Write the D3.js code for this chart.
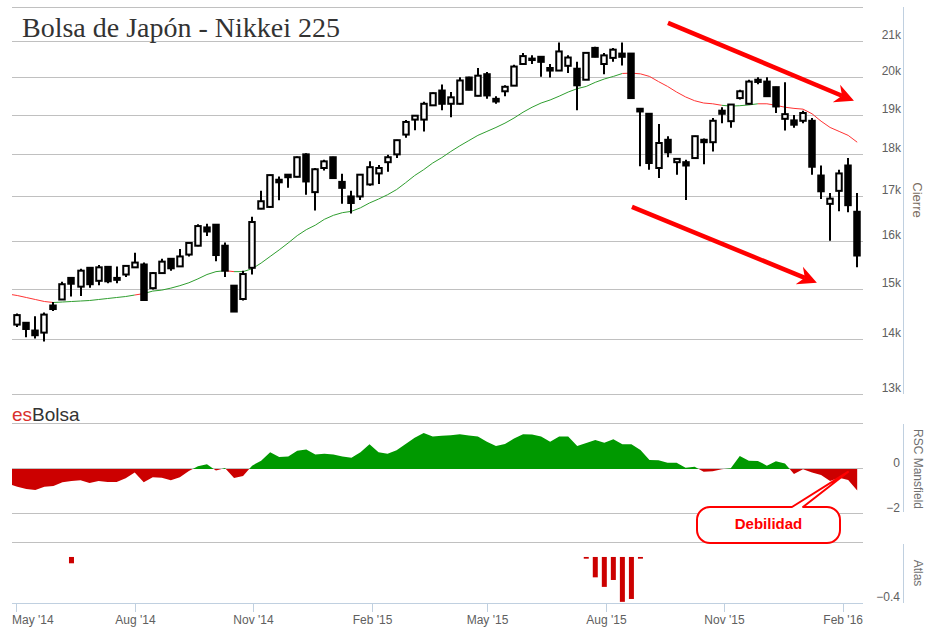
<!DOCTYPE html>
<html>
<head>
<meta charset="utf-8">
<script src="https://cdn.jsdelivr.net/npm/d3@7"></script>
<style>
  body { margin: 0; background: #fff; }
  svg { display: block; }
</style>
</head>
<body>
<div id="chart"></div>
<script>
// weekly candles (Friday of each week)
const weeks = [
  '2014-05-02','2014-05-09','2014-05-16','2014-05-23','2014-05-30',
  '2014-06-06','2014-06-13','2014-06-20','2014-06-27',
  '2014-07-04','2014-07-11','2014-07-18','2014-07-25',
  '2014-08-01','2014-08-08','2014-08-15','2014-08-22','2014-08-29',
  '2014-09-05','2014-09-12','2014-09-19','2014-09-26',
  '2014-10-03','2014-10-10','2014-10-17','2014-10-24','2014-10-31',
  '2014-11-07','2014-11-14','2014-11-21','2014-11-28',
  '2014-12-05','2014-12-12','2014-12-19','2014-12-26',
  '2015-01-02','2015-01-09','2015-01-16','2015-01-23','2015-01-30',
  '2015-02-06','2015-02-13','2015-02-20','2015-02-27',
  '2015-03-06','2015-03-13','2015-03-20','2015-03-27',
  '2015-04-03','2015-04-10','2015-04-17','2015-04-24',
  '2015-05-01','2015-05-08','2015-05-15','2015-05-22','2015-05-29',
  '2015-06-05','2015-06-12','2015-06-19','2015-06-26',
  '2015-07-03','2015-07-10','2015-07-17','2015-07-24','2015-07-31',
  '2015-08-07','2015-08-14','2015-08-21','2015-08-28',
  '2015-09-04','2015-09-11','2015-09-18','2015-09-25',
  '2015-10-02','2015-10-09','2015-10-16','2015-10-23','2015-10-30',
  '2015-11-06','2015-11-13','2015-11-20','2015-11-27',
  '2015-12-04','2015-12-11','2015-12-18','2015-12-25',
  '2016-01-01','2016-01-08','2016-01-15','2016-01-22','2016-01-29',
  '2016-02-05','2016-02-12'
];

const open = [
  14285,14320,14170,14130,14660,14780,15220,15040,15430,15160,
  15450,15220,15290,15440,15500,15010,15320,15620,15460,15710,
  15900,16300,16360,15900,15060,14790,15430,16720,16760,17390,
  17510,17460,18000,17100,17670,17930,17340,17000,17000,17280,
  17540,17810,18000,18490,18870,18870,19240,19630,19280,19280,
  19980,19490,20070,19410,19610,19760,20350,20500,20550,20240,
  20170,20300,20220,19920,20800,20350,20520,20640,20640,19150,
  19020,17670,18360,17810,17810,17910,18360,18300,19100,18830,
  19430,19280,19920,19870,19720,18890,18850,18840,18840,17490,
  16830,17130,17730,16650
];
const high = [
  14500,14330,14450,14520,14730,15140,15230,15410,15440,15490,
  15460,15460,15480,15750,15540,15340,15620,15630,15830,15980,
  16370,16380,16370,15970,15060,15370,16540,17130,17510,17470,
  17520,17950,18030,17670,17870,17940,17530,17130,17520,17830,
  17740,17990,18360,18860,18990,19330,19580,19790,19590,19990,
  20000,20240,20130,19480,19770,20330,20660,20590,20560,20350,
  20950,20590,20410,20670,20830,20660,20800,20950,20650,19160,
  19030,18760,18450,17900,17870,18460,18390,18910,19190,19270,
  19650,19920,19990,19990,19730,19850,18990,19100,18910,17730,
  17080,17630,17910,17080
];
const low = [
  14240,14040,14020,13960,14550,14770,14840,14850,15020,15070,
  15110,15110,15240,15430,14760,14980,15310,15370,15450,15670,
  15890,16110,15570,15240,14530,14760,15290,16710,16740,16910,
  17200,17450,17040,16680,17610,17420,16830,16610,16920,17250,
  17290,17580,17910,18410,18600,18570,19230,19110,18930,19260,
  19640,19480,19410,19280,19480,19750,20330,20350,20000,19980,
  20160,20100,19110,19910,20540,20070,20410,20310,19420,17710,
  17630,17430,17930,17510,16920,17890,17760,18070,18780,18660,
  19390,19260,19800,19460,19040,18590,18660,18780,17510,16940,
  16010,16660,16640,15440
];
const close = [
  14470,14200,14080,14480,14590,15090,15100,15370,15090,15440,
  15150,15180,15470,15540,14770,15320,15560,15420,15670,15960,
  16330,16210,15700,15370,14540,15300,16420,16890,17500,17330,
  17450,17930,17350,17640,17830,17430,17200,16850,17510,17690,
  17670,17930,18350,18810,18970,19280,19560,19280,19450,19900,
  19650,20030,19500,19340,19730,20280,20570,20460,20410,20170,
  20700,20530,19770,20660,20550,20590,20750,20550,19430,19080,
  17790,18280,18050,17890,17730,18450,18300,18840,19020,19260,
  19610,19870,19860,19480,19210,19010,18740,19040,17700,17120,
  16950,17540,16800,15690
];

// the moving average and the Mansfield line start one week before the first candle
const leadWeek = '2014-04-25';
const ma = [
  14890,14860,14820,14780,14740,14720,14730,14740,14750,14760,
  14780,14800,14820,14840,14870,14900,14950,14970,15010,15060,
  15120,15200,15290,15350,15370,15350,15350,15410,15530,15670,
  15810,15960,16120,16250,16350,16480,16570,16630,16660,16740,
  16850,16940,17040,17160,17320,17490,17630,17790,17920,18070,
  18210,18340,18470,18570,18670,18780,18910,19060,19190,19300,
  19380,19480,19590,19680,19740,19850,19940,20010,20090,20100,
  20080,20010,19870,19740,19590,19460,19360,19300,19280,19240,
  19220,19230,19250,19280,19280,19240,19190,19160,19140,19020,
  18830,18670,18570,18470,18300
];
// periods where the average is drawn green (the rest is red)
const greenZones = [
  ['2014-05-30','2014-08-01'],
  ['2014-08-08','2014-10-10'],
  ['2014-10-17','2015-08-14'],
  ['2015-10-30','2015-11-27']
];

const rsc = [
  -0.66,-0.79,-0.89,-0.93,-0.79,-0.76,-0.59,-0.53,-0.50,-0.62,
  -0.53,-0.58,-0.58,-0.41,-0.15,-0.59,-0.37,-0.39,-0.50,-0.37,
  -0.09, 0.12, 0.21,-0.07, 0.04,-0.40,-0.31, 0.15, 0.37, 0.74,
   0.53, 0.56, 0.81, 0.87, 0.65, 0.68, 0.64, 0.56, 0.50, 0.74,
   1.10, 0.74, 0.68, 0.83, 1.11, 1.39, 1.60, 1.44, 1.48, 1.50,
   1.54, 1.49, 1.45, 1.21, 1.02, 1.11, 1.36, 1.54, 1.53, 1.45,
   1.21, 1.45, 1.45, 1.02, 1.16, 1.29, 1.17, 1.32, 1.10, 1.10,
   0.84, 0.40, 0.39, 0.28, 0.28, 0.06, 0.10,-0.12,-0.10,-0.01,
   0.03, 0.58, 0.37, 0.36, 0.15, 0.34, 0.25,-0.22,-0.01,-0.15,
  -0.27,-0.53,-0.39,-0.49,-0.96
];

const atlasWeeks = ['2014-06-13','2015-07-17','2015-07-24','2015-07-31','2015-08-07','2015-08-14','2015-08-21','2015-08-28'];
const atlasValues = [-0.055,-0.015,-0.177,-0.26,-0.20,-0.39,-0.365,-0.015];

const tickDates  = ['2014-05-01','2014-08-01','2014-11-01','2015-02-01','2015-05-01','2015-08-01','2015-11-01','2016-02-01'];
const tickLabels = ["May '14","Aug '14","Nov '14","Feb '15","May '15","Aug '15","Nov '15","Feb '16"];

const priceTicks = [13000,14000,15000,16000,17000,18000,19000,20000,21000,22000];
const rscTicks = [-2, 0, 2];

// trend arrows, in (date, price) units
const arrows = [
  { from: ['2015-09-18T08:00', 21520], to: ['2016-02-09T12:00', 19360] },
  { from: ['2015-08-21T10:00', 16760], to: ['2016-01-11T18:00', 15120] }
];

function createChart() {
  const W = 931, H = 635;
  const left = 12, right = 863, axisX = 903.5;
  const parse = s => new Date(s.length > 10 ? s + 'Z' : s + 'T00:00Z');
  const FONT = '"Liberation Sans", Arial, sans-serif';
  const GRID = '#c0c0c0', AXIS = '#c0d0e0', LABEL = '#606060';

  const svg = d3.select('#chart').append('svg')
    .attr('width', W).attr('height', H)
    .attr('viewBox', `0 0 ${W} ${H}`);

  // 1) scales
  const x = d3.scaleUtc()
    .domain([parse(tickDates[0]), parse(tickDates[tickDates.length - 1])])
    .range([16, 843]);
  const yP = d3.scaleLog().domain([13000, 22000]).range([394, 6.6]);
  const yR = d3.scaleLinear().domain([-2, 2]).range([514, 424]);
  const yA = d3.scaleLinear().domain([-0.4, 0.13]).range([603, 542]);

  const crisp = v => Math.round(v) + 0.5;

  const defs = svg.append('defs');
  const clip = (id, x0, y0, x1, y1) => defs.append('clipPath').attr('id', id)
    .append('rect').attr('x', x0).attr('y', y0).attr('width', x1 - x0).attr('height', y1 - y0);
  clip('clip-main', left, 0, right, 394);
  clip('clip-pos', left, 400, right, yR(0));
  clip('clip-neg', left, yR(0), right, 540);

  // 2) grid lines
  const grid = svg.append('g').attr('stroke', GRID).attr('stroke-width', 1);
  priceTicks.forEach(v => grid.append('line')
    .attr('x1', left).attr('x2', right).attr('y1', crisp(yP(v))).attr('y2', crisp(yP(v))));
  rscTicks.forEach(v => grid.append('line')
    .attr('x1', left).attr('x2', right).attr('y1', crisp(yR(v)) - 1).attr('y2', crisp(yR(v)) - 1));
  grid.append('line')
    .attr('x1', left).attr('x2', right).attr('y1', crisp(yA.range()[1])).attr('y2', crisp(yA.range()[1]));

  // 3) title and watermark
  svg.append('text')
    .attr('x', 22).attr('y', 37)
    .attr('font-family', '"Liberation Serif", "Times New Roman", serif')
    .attr('font-size', '28px').attr('fill', '#333')
    .text('Bolsa de Japón - Nikkei 225');

  const brand = svg.append('text')
    .attr('x', 12).attr('y', 421)
    .attr('font-family', FONT).attr('font-size', '19px');
  brand.append('tspan').attr('fill', '#d9302c').text('es');
  brand.append('tspan').attr('fill', '#333').text('Bolsa');

  // 4) moving average, coloured per segment
  const lineDates = [leadWeek].concat(weeks).map(parse);
  const isGreen = (a, b) => greenZones.some(z => parse(z[0]) <= a && b <= parse(z[1]));
  const maG = svg.append('g').attr('clip-path', 'url(#clip-main)');
  for (let i = 0; i < ma.length - 1; i++) {
    maG.append('line')
      .attr('x1', x(lineDates[i])).attr('y1', yP(ma[i]))
      .attr('x2', x(lineDates[i + 1])).attr('y2', yP(ma[i + 1]))
      .attr('stroke', isGreen(lineDates[i], lineDates[i + 1]) ? '#2f9e2f' : '#ff3333')
      .attr('stroke-width', 1);
  }

  // 5) candles
  const candles = weeks.map((w, i) => ({
    date: parse(w), o: open[i], h: high[i], l: low[i], c: close[i]
  }));
  const cg = svg.append('g').attr('clip-path', 'url(#clip-main)')
    .selectAll('g').data(candles).enter().append('g');
  cg.append('line')
    .attr('x1', d => Math.round(x(d.date))).attr('x2', d => Math.round(x(d.date)))
    .attr('y1', d => yP(d.h)).attr('y2', d => yP(d.l))
    .attr('stroke', '#000').attr('stroke-width', 2);
  cg.append('rect')
    .attr('x', d => Math.round(x(d.date)) - 2.75)
    .attr('width', 5.5)
    .attr('y', d => yP(Math.max(d.o, d.c)))
    .attr('height', d => Math.max(1, yP(Math.min(d.o, d.c)) - yP(Math.max(d.o, d.c))))
    .attr('fill', d => d.c >= d.o ? '#fff' : '#000')
    .attr('stroke', '#000').attr('stroke-width', 2);

  // 6) trend arrows
  arrows.forEach(a => {
    const x0 = x(parse(a.from[0])), y0 = yP(a.from[1]);
    const x1 = x(parse(a.to[0])),   y1 = yP(a.to[1]);
    const len = Math.hypot(x1 - x0, y1 - y0);
    const ux = (x1 - x0) / len, uy = (y1 - y0) / len;
    const nx = -uy, ny = ux;
    const back = 19, notch = 13, half = 9.5;
    svg.append('line')
      .attr('x1', x0).attr('y1', y0)
      .attr('x2', x1 - ux * notch).attr('y2', y1 - uy * notch)
      .attr('stroke', '#ff0000').attr('stroke-width', 4.5);
    const pts = [
      [x1, y1],
      [x1 - ux * back + nx * half, y1 - uy * back + ny * half],
      [x1 - ux * notch, y1 - uy * notch],
      [x1 - ux * back - nx * half, y1 - uy * back - ny * half]
    ];
    svg.append('polygon').attr('points', pts.map(p => p.join(',')).join(' '))
      .attr('fill', '#ff0000');
  });

  // 7) RSC Mansfield area (green above zero, red below)
  const rscData = lineDates.map((d, i) => ({ date: d, v: rsc[i] }));
  const area = d3.area().x(d => x(d.date)).y0(yR(0)).y1(d => yR(d.v));
  svg.append('path').datum(rscData).attr('d', area)
    .attr('fill', '#009900').attr('clip-path', 'url(#clip-pos)');
  svg.append('path').datum(rscData).attr('d', area)
    .attr('fill', '#cc0000').attr('clip-path', 'url(#clip-neg)');

  // 8) Atlas bars
  svg.append('g').selectAll('rect')
    .data(atlasWeeks.map((w, i) => ({ date: parse(w), v: atlasValues[i] })))
    .enter().append('rect')
      .attr('x', d => x(d.date) - 2.5).attr('width', 5)
      .attr('y', yA(0))
      .attr('height', d => yA(d.v) - yA(0))
      .attr('fill', '#cc0000');

  // 9) "Debilidad" callout pointing at the last Mansfield reading
  const tipX = x(parse('2016-02-04T20:00')), tipY = yR(-0.13);
  const bx0 = 697, bx1 = 840, by0 = 507, by1 = 543, r = 13;
  const callout = `M${bx0 + r},${by0} L792,${by0} L${tipX},${tipY} L803,${by0} L${bx1 - r},${by0}
    A${r},${r} 0 0 1 ${bx1},${by0 + r} L${bx1},${by1 - r} A${r},${r} 0 0 1 ${bx1 - r},${by1}
    L${bx0 + r},${by1} A${r},${r} 0 0 1 ${bx0},${by1 - r} L${bx0},${by0 + r}
    A${r},${r} 0 0 1 ${bx0 + r},${by0} Z`;
  svg.append('path').attr('d', callout)
    .attr('fill', '#fff').attr('stroke', '#ff0000').attr('stroke-width', 2)
    .attr('stroke-linejoin', 'round');
  svg.append('text')
    .attr('x', (bx0 + bx1) / 2).attr('y', 529)
    .attr('text-anchor', 'middle')
    .attr('font-family', FONT).attr('font-size', '15px').attr('font-weight', 'bold')
    .attr('fill', '#ff0000')
    .text('Debilidad');

  // 10) right axes
  const ax = svg.append('g').attr('stroke', AXIS).attr('stroke-width', 1);
  ax.append('line').attr('x1', axisX).attr('x2', axisX).attr('y1', 7).attr('y2', 394);
  ax.append('line').attr('x1', axisX).attr('x2', axisX).attr('y1', 424).attr('y2', 512);
  ax.append('line').attr('x1', axisX).attr('x2', axisX).attr('y1', 544).attr('y2', 603);

  const lab = svg.append('g')
    .attr('font-family', FONT).attr('font-size', '12px').attr('fill', LABEL)
    .attr('text-anchor', 'end');
  priceTicks.slice(0, -1).forEach(v => lab.append('text')
    .attr('x', 901).attr('y', yP(v) - 2).text(d3.format('d')(v / 1000) + 'k'));
  [0, -2].forEach(v => lab.append('text')
    .attr('x', 900).attr('y', yR(v) - 2).text(v < 0 ? '\u2212' + (-v) : v));
  lab.append('text').attr('x', 900).attr('y', yA(-0.4) - 2).text('\u22120.4');

  const titles = [
    { t: 'Cierre',        x: 917, y: 200, size: '13px', color: '#7a6c60' },
    { t: 'RSC Mansfield', x: 918, y: 469, size: '12px', color: '#707070' },
    { t: 'Atlas',         x: 918, y: 573, size: '12px', color: '#707070' }
  ];
  titles.forEach(d => svg.append('text')
    .attr('transform', `translate(${d.x},${d.y}) rotate(90)`)
    .attr('text-anchor', 'middle').attr('dominant-baseline', 'central')
    .attr('font-family', FONT).attr('font-size', d.size).attr('fill', d.color)
    .text(d.t));

  // 11) bottom time axis
  const xa = svg.append('g');
  xa.append('line').attr('x1', left).attr('x2', right)
    .attr('y1', 603.5).attr('y2', 603.5).attr('stroke', AXIS);
  tickDates.forEach((t, i) => {
    const tx = crisp(x(parse(t)));
    xa.append('line').attr('x1', tx).attr('x2', tx).attr('y1', 603).attr('y2', 612)
      .attr('stroke', AXIS);
    const txt = xa.append('text')
      .attr('y', 624).attr('font-family', FONT).attr('font-size', '12px').attr('fill', LABEL)
      .text(tickLabels[i]);
    const w = txt.node().getComputedTextLength();
    let lx = tx - w / 2;
    if (lx < left) lx = left;
    if (lx + w > right) lx = right - w;
    txt.attr('x', lx);
  });
}

document.addEventListener('DOMContentLoaded', createChart);
</script>
</body>
</html>
